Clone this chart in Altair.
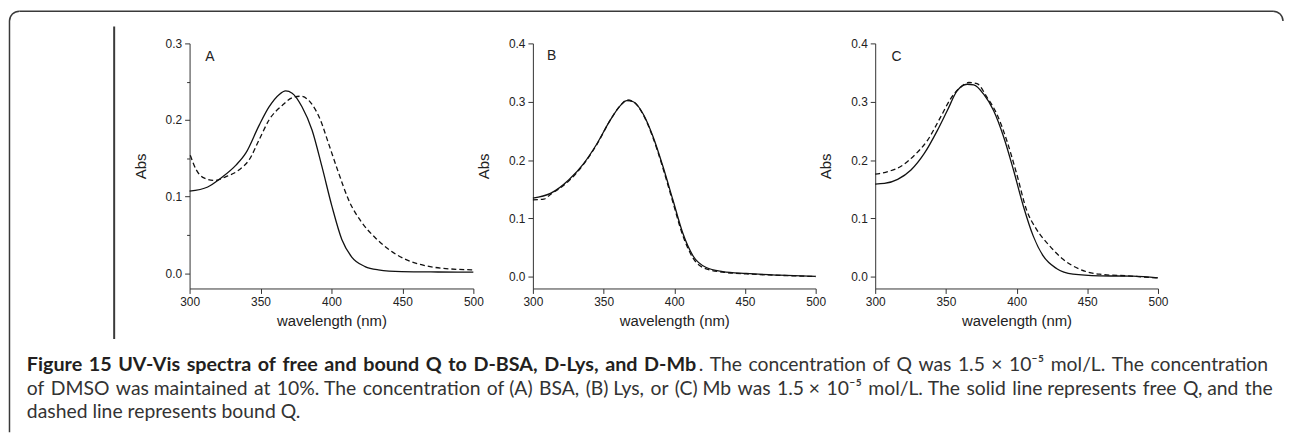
import math
import altair as alt
import pandas as pd

# ---------------- data ----------------
a_free_wl = [300, 312.8, 322, 332.7, 339.7, 349, 356, 363, 367.7, 372.3, 379.3, 386.3, 393.3, 400.3, 407.3, 414.3, 423.7, 433, 449.4, 475, 500]
a_free_ab = [0.107, 0.1125, 0.124, 0.141, 0.157, 0.193, 0.217, 0.233, 0.238, 0.235, 0.217, 0.187, 0.139, 0.0875, 0.044, 0.021, 0.0086, 0.0043, 0.002, 0.0015, 0.0013]
a_bound_wl = [300.5, 304.7, 310.5, 317.5, 325.7, 335, 342, 349, 356, 365.3, 372.3, 378.2, 385.2, 392.2, 398, 405, 412, 421.4, 430.7, 440, 451.7, 463.4, 477.4, 500]
a_bound_ab = [0.154, 0.135, 0.124, 0.121, 0.126, 0.135, 0.148, 0.174, 0.2, 0.219, 0.229, 0.231, 0.223, 0.2, 0.169, 0.131, 0.096, 0.066, 0.0466, 0.0315, 0.0185, 0.011, 0.0065, 0.0043]

b_free_wl = [300, 312.4, 325.3, 335.9, 345.3, 354.6, 361.7, 366.4, 371, 378, 385, 392, 399, 406, 413.3, 422.6, 434.3, 450.8, 474.2, 500]
b_free_ab = [0.135, 0.143, 0.166, 0.194, 0.228, 0.268, 0.293, 0.302, 0.300, 0.279, 0.24, 0.189, 0.132, 0.075, 0.0357, 0.0159, 0.009, 0.0057, 0.0028, 0.0006]
b_bound_wl = [300, 307.7, 312.4, 325.3, 335.9, 345.3, 354.6, 361.7, 366.4, 371, 378, 385, 392, 399, 406, 413.3, 422.6, 434.3, 450.8, 474.2, 500]
b_bound_ab = [0.132, 0.133, 0.141, 0.164, 0.193, 0.227, 0.268, 0.293, 0.303, 0.300, 0.278, 0.238, 0.186, 0.128, 0.071, 0.032, 0.0135, 0.008, 0.005, 0.0025, 0.0005]

c_free_wl = [300, 306.5, 315.9, 325.3, 334.6, 344, 351, 358, 365, 369.7, 376.7, 383.7, 390.8, 397.8, 404.8, 411.8, 418.8, 428.2, 439.9, 458.6, 482, 500]
c_free_ab = [0.159, 0.160, 0.167, 0.183, 0.211, 0.251, 0.285, 0.319, 0.330, 0.329, 0.313, 0.285, 0.24, 0.183, 0.121, 0.0697, 0.0357, 0.0142, 0.0045, 0.0017, 0.0011, -0.002]
c_bound_wl = [300, 303, 310, 318, 327.6, 337, 346.3, 353.3, 360.4, 366.2, 372, 379, 386, 393, 400, 407, 414.2, 423.5, 432.9, 444.6, 458.6, 477.3, 500]
c_bound_ab = [0.176, 0.177, 0.181, 0.189, 0.208, 0.234, 0.274, 0.305, 0.325, 0.333, 0.331, 0.308, 0.279, 0.234, 0.177, 0.115, 0.081, 0.0527, 0.030, 0.013, 0.0045, 0.0017, -0.002]

panel_letters = ["A", "B", "C"]
y_max = [0.3, 0.4, 0.4]
x_ticks = [300, 325, 350, 375, 400, 425, 450, 475, 500]

caption_bold = "Figure 15 UV-Vis spectra of free and bound Q to D-BSA, D-Lys, and D-Mb"
caption_l1_rest = ". The concentration of Q was 1.5 \u00d7 10\u207b\u2075 mol/L. The concentration"
caption_l2 = "of DMSO was maintained at 10%. The concentration of (A) BSA, (B) Lys, or (C) Mb was 1.5 \u00d7 10\u207b\u2075 mol/L. The solid line represents free Q, and the"
caption_l3 = "dashed line represents bound Q."

AX_FONT = "Liberation Sans"
CAP_FONT = "Lato"
INK = "#222222"
AXC = "#333333"

one = pd.DataFrame({"k": [0]})


def y_ticks(top):
    n = int(round(top / 0.05))
    return [round(i * 0.05, 2) for i in range(n + 1)]


def make_panel(i, free_wl, free_ab, bound_wl, bound_ab, width, letter_x, letter_y, extra=None):
    free = pd.DataFrame({"wl": free_wl, "ab": free_ab})
    bound = pd.DataFrame({"wl": bound_wl, "ab": bound_ab})
    xs = alt.Scale(domain=[300, 500], nice=False, zero=False)
    ys = alt.Scale(domain=[-0.02, y_max[i]], nice=False, zero=False)
    xaxis = alt.Axis(
        values=x_ticks, format="d",
        labelExpr="datum.value % 50 === 0 ? datum.label : ''",
        title="wavelength (nm)", grid=False,
        domainColor=AXC, tickColor=AXC, domainWidth=1, tickWidth=1,
        tickSize={"condition": {"test": "datum.value % 50 === 0", "value": 5}, "value": 3},
        labelFont=AX_FONT, labelFontSize=12, labelColor=INK, labelPadding=3,
        labelOverlap=False, labelFlush=False,
        titleFont=AX_FONT, titleFontSize=15, titleFontWeight="normal", titleColor=INK,
        titlePadding=6,
    )
    yaxis = alt.Axis(
        values=y_ticks(y_max[i]),
        labelExpr="abs(datum.value * 10 - round(datum.value * 10)) < 0.001 ? format(datum.value, '.1f') : ''",
        title="Abs", grid=False,
        domainColor=AXC, tickColor=AXC, domainWidth=1, tickWidth=1,
        tickSize={"condition": {"test": "abs(datum.value * 10 - round(datum.value * 10)) < 0.001", "value": 5}, "value": 3},
        labelFont=AX_FONT, labelFontSize=12, labelColor=INK, labelPadding=3,
        labelOverlap=False, labelFlush=False,
        titleFont=AX_FONT, titleFontSize=15, titleFontWeight="normal", titleColor=INK,
        titlePadding=17,
    )
    solid = alt.Chart(free).mark_line(color="#111111", strokeWidth=1.3, interpolate="monotone").encode(
        x=alt.X("wl:Q", scale=xs, axis=xaxis),
        y=alt.Y("ab:Q", scale=ys, axis=yaxis),
    )
    dashed = alt.Chart(bound).mark_line(color="#111111", strokeWidth=1.3, strokeDash=[5, 3], interpolate="monotone").encode(
        x=alt.X("wl:Q", scale=xs),
        y=alt.Y("ab:Q", scale=ys),
    )
    letter = alt.Chart(one).mark_text(font=AX_FONT, fontSize=14, color=INK, align="center", baseline="alphabetic").encode(
        x=alt.value(letter_x), y=alt.value(letter_y), text=alt.value(panel_letters[i])
    )
    layers = [solid, dashed, letter]
    if extra:
        layers += extra
    return alt.layer(*layers).properties(width=width, height=247)


# --------- decorations and caption (pixel offsets relative to panel A's plot area) ---------
FR = "#3a3a3a"
deco = []
# vertical separator
deco.append(alt.Chart(one).mark_rule(color=FR, strokeWidth=2).encode(
    x=alt.value(-76), y=alt.value(-17), y2=alt.value(298)))
# frame: top edge, left edge, rounded corners
deco.append(alt.Chart(one).mark_rule(color=FR, strokeWidth=1.5).encode(
    x=alt.value(-171.5), x2=alt.value(1092), y=alt.value(-32.5)))
deco.append(alt.Chart(one).mark_rule(color=FR, strokeWidth=1.5).encode(
    x=alt.value(-181.5), y=alt.value(-22.5), y2=alt.value(392)))
deco.append(alt.Chart(one).mark_arc(color=FR, radius=10.75, radius2=9.25, theta=3 * math.pi / 2, theta2=2 * math.pi).encode(
    x=alt.value(-171.5), y=alt.value(-22.5)))
deco.append(alt.Chart(one).mark_arc(color=FR, radius=10.75, radius2=9.25, theta=0, theta2=math.pi / 2).encode(
    x=alt.value(1092), y=alt.value(-22.5)))

CX0 = -164
CX1 = 1087
CAP_SIZE = 19.5
L1, L2, L3 = 330.5, 354.5, 378
WIDE = "\u2004"
MID = "\u2005"


def justify(txt, pattern):
    parts = txt.split(" ")
    out = parts[0]
    for k, p in enumerate(parts[1:]):
        out += pattern[k % len(pattern)] + p
    return out


def cap(txt, x, y, align, bold=False, size=CAP_SIZE):
    return alt.Chart(one).mark_text(
        font=CAP_FONT, fontSize=size, fontWeight="bold" if bold else "normal",
        color="#231f20" if bold else "#333333", align=align, baseline="alphabetic"
    ).encode(x=alt.value(x), y=alt.value(y), text=alt.value(txt))


deco += [
    cap(justify(caption_bold, [WIDE]), CX0, L1, "left", bold=True, size=19.9),
    cap(justify(caption_l1_rest, [WIDE]), CX1, L1, "right"),
    cap(justify(caption_l2, [WIDE, WIDE, MID]), CX0, L2, "left"),
    cap(caption_l3, CX0, L3, "left"),
]

pa = make_panel(0, a_free_wl, a_free_ab, a_bound_wl, a_bound_ab, 286, 20.5, 18, extra=deco)
pb = make_panel(1, b_free_wl, b_free_ab, b_bound_wl, b_bound_ab, 285, 19, 17)
pc = make_panel(2, c_free_wl, c_free_ab, c_bound_wl, c_bound_ab, 285, 21.5, 18)

chart = alt.hconcat(pa, pb, pc, spacing=60, bounds="flush").properties(
    padding=0, background="white"
).configure_view(stroke=None)

chart.save("out.html", embed_options={"renderer": "svg", "actions": False})
